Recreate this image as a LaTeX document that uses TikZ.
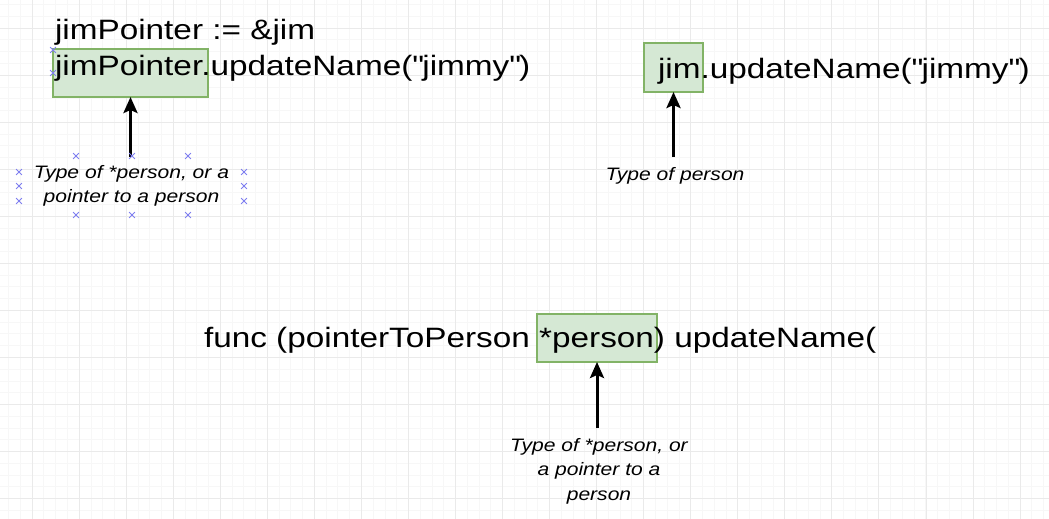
\documentclass[tikz,border=0pt]{standalone}
\usepackage{fontspec}
\setmainfont{Liberation Sans}[FakeStretch=1.17]
\newfontfamily\codefont{Liberation Sans}[FakeStretch=1.19]
\usetikzlibrary{arrows.meta,shapes.misc}
\definecolor{gfill}{HTML}{D5E8D4}
\definecolor{gline}{HTML}{82B366}
\definecolor{gridmaj}{HTML}{EAEAEA}
\definecolor{gridmin}{HTML}{F7F7F7}
\definecolor{hcol}{HTML}{7E7EF0}
\tikzset{
  code/.style={anchor=base west, inner sep=0pt, outer sep=0pt, font=\codefont\fontsize{28}{34}\selectfont},
  hlbox/.style={draw=gline, fill=gfill, line width=1.5pt, inner sep=0pt, outer sep=0pt},
  note/.style={align=center, inner sep=0pt, outer sep=0pt, font=\itshape\fontsize{18}{24.5}\selectfont},
  arr/.style={-{Stealth[length=16pt,width=14pt,inset=3pt]}, line width=3pt, black},
  handle/.style={cross out, draw=hcol, line width=0.8pt, minimum size=5pt, inner sep=0pt},
  gmin/.style={draw=gridmin, line width=0.6pt},
  gmaj/.style={draw=gridmaj, line width=0.9pt}
}
\begin{document}
\begin{tikzpicture}[x=1pt, y=-1pt]
\useasboundingbox[fill=white] (0,0) rectangle (1049,519);
% grid
\foreach \i in {0,...,88} \draw[gmin] ({8.5+11.76*\i},0) -- ++(0,519);
\foreach \i in {0,...,43} \draw[gmin] (0,{4.5+11.76*\i}) -- ++(1049,0);
\foreach \i in {0,...,21} \draw[gmaj] ({32+47.05*\i},0) -- ++(0,519);
\foreach \i in {0,...,10} \draw[gmaj] (0,{28+47.05*\i}) -- ++(1049,0);
% highlight boxes
\node[hlbox, minimum width=155, minimum height=48] (b1) at (130.5,73) {};
\node[hlbox, minimum width=59, minimum height=49] (b2) at (673.5,67.5) {};
\node[hlbox, minimum width=120, minimum height=48] (b3) at (597,338) {};
% code text
\node[code] (t1) at (55,40) {jimPointer := \&jim};
\node[code] (t2) at (55,75) {jimPointer.updateName(\textquotedbl jimmy\textquotedbl)};
\node[code] (t3) at (658,78) {jim.updateName(\textquotedbl jimmy\textquotedbl)};
\node[code] (t4) at (204,347) {func (pointerToPerson *person) updateName(};
% notes
\node[note, minimum width=225, minimum height=59] (l1) at (131.5,186) {Type of *person, or a\\pointer to a person};
\node[note, minimum width=150, minimum height=38] (l2) at (675,176) {Type of person};
\node[note, minimum width=190, minimum height=86] (l3) at (599,471) {Type of *person, or\\a pointer to a\\person};
% arrows
\draw[arr] (b1.south |- l1.north) -- (b1.south);
\draw[arr] (b2.south |- l2.north) -- (b2.south);
\draw[arr] (b3.south |- l3.north) -- (b3.south);
% selection handles
\foreach \p [count=\i] in {(76,156),(132,156),(188,156),(19,172),(19,186),(19,201),(244,172),(244,186),(244,201),(76,215),(132,215),(188,215),(53,50),(53,73)}
  \node[handle] (h\i) at \p {};
\end{tikzpicture}
\end{document}
